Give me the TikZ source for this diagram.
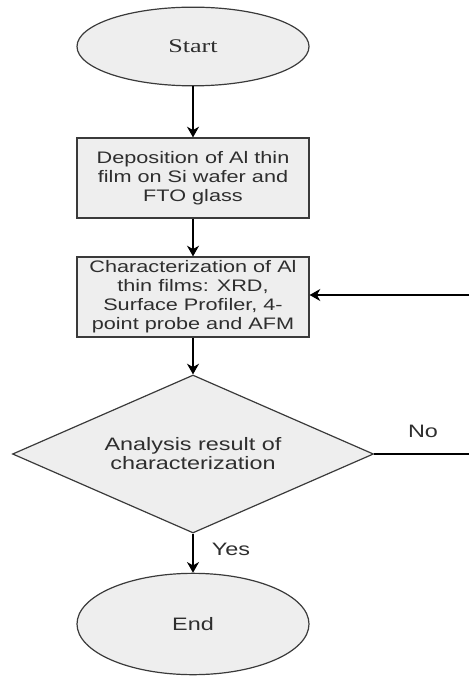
\documentclass[tikz,border=0pt]{standalone}
\usepackage{fontspec}
\setmainfont{Liberation Sans}
\newfontfamily\widesans[FakeStretch=1.3]{Liberation Sans}
\newfontfamily\wideserif[FakeStretch=1.35]{Liberation Serif}
\usetikzlibrary{shapes.geometric,arrows.meta}
\definecolor{fillgray}{HTML}{EEEEEE}
\definecolor{edgegray}{HTML}{3A3A3A}
\definecolor{txtgray}{HTML}{2E2E2E}
\tikzset{
  base/.style={draw=edgegray, fill=fillgray, line width=0.9pt, text=txtgray, inner sep=0pt,
    font=\widesans\fontsize{12.5pt}{14.25pt}\selectfont},
  terminal/.style={base, ellipse, minimum width=174pt, minimum height=59pt},
  procbox/.style={base, rectangle, minimum width=174pt, minimum height=60pt, align=center},
  decision/.style={base, diamond, aspect=2.3, minimum width=270.75pt, minimum height=118.5pt, align=center,
    font=\widesans\fontsize{13.5pt}{14.25pt}\selectfont},
  flow/.style={line width=1.1pt, -{Stealth[length=8pt,width=9pt,inset=2.5pt]}},
  plainline/.style={line width=1.1pt},
  lbl/.style={text=txtgray, font=\widesans\fontsize{13.5pt}{14pt}\selectfont, inner sep=0pt}
}
\begin{document}
\begin{tikzpicture}[x=0.75pt,y=-0.75pt]
\useasboundingbox (0,0) rectangle (469,677);
\node[terminal, font=\wideserif\fontsize{14.5pt}{16pt}\selectfont] (start) at (193,46.5) {Start};
\node[procbox] (dep) at (193,178) {Deposition of Al thin\\film on Si wafer and\\FTO glass};
\node[procbox] (char) at (193,297) {Characterization of Al\\thin films: XRD,\\Surface Profiler, 4-\\point probe and AFM};
\node[decision] (ana) at (193,454) {Analysis result of\\characterization};
\node[terminal, minimum height=76pt, font=\widesans\fontsize{13.5pt}{14pt}\selectfont] (end) at (193,624) {End};
\coordinate (noend) at (469,454);
\coordinate (loopin) at (469,295);
\draw[flow] (start) -- (dep);
\draw[flow] (dep) -- (char);
\draw[flow] (char) -- (ana);
\draw[flow] (ana) -- (end);
\node[lbl] (yes) at (231,549) {Yes};
\draw[plainline] (ana.east) -- (noend);
\node[lbl] (no) at (423,431) {No};
\draw[flow] (loopin) -- (char.east |- loopin);
\end{tikzpicture}
\end{document}
